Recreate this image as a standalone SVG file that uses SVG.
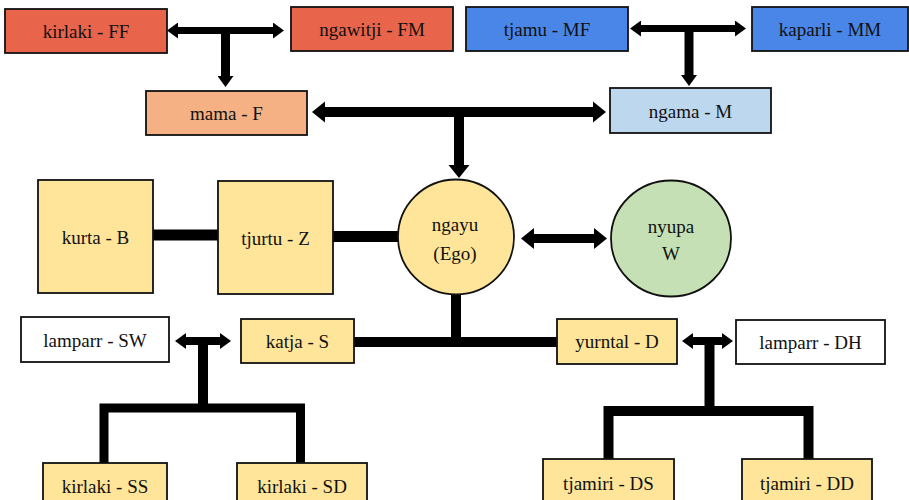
<svg xmlns="http://www.w3.org/2000/svg" width="909" height="500" viewBox="0 0 909 500">
<defs>
<style>
.box{stroke:#111;stroke-width:1.8}
.t{font-size:19px;fill:#111;text-anchor:middle}
.red{fill:#E8644B}.sal{fill:#F5B184}.blu{fill:#4A86E8}.lbl{fill:#BDD7EE}.yel{fill:#FFE599}.grn{fill:#C5E0B4}.wht{fill:#fff}
.c{fill:none;stroke:#000;stroke-linejoin:miter}
</style>
<marker id="hs" viewBox="-1 -8 12 16" refX="0" refY="0" markerWidth="12" markerHeight="16" markerUnits="userSpaceOnUse" orient="auto-start-reverse">
<polygon points="-1,-8 10,0 -1,8" fill="#000"/>
</marker>
<marker id="hl" viewBox="-1 -11 13 22" refX="0" refY="0" markerWidth="13" markerHeight="22" markerUnits="userSpaceOnUse" orient="auto-start-reverse">
<polygon points="-1,-10.5 12,0 -1,10.5" fill="#000"/>
</marker>
</defs>
<rect width="909" height="500" fill="#fff"/>

<g id="connectors">
<path class="c" d="M177,30.5 H274" stroke-width="7" marker-start="url(#hs)" marker-end="url(#hs)"/>
<path class="c" d="M225.5,30 V77" stroke-width="9" marker-end="url(#hs)"/>
<path class="c" d="M640,28.5 H736" stroke-width="7" marker-start="url(#hs)" marker-end="url(#hs)"/>
<path class="c" d="M689,28 V76" stroke-width="9" marker-end="url(#hs)"/>
<path class="c" d="M324,112 H594" stroke-width="10" marker-start="url(#hl)" marker-end="url(#hl)"/>
<path class="c" d="M459,112 V166" stroke-width="10" marker-end="url(#hl)"/>
<path class="c" d="M533,238.5 H595" stroke-width="9" marker-start="url(#hl)" marker-end="url(#hl)"/>
<path class="c" d="M153,235 H218" stroke-width="11"/>
<path class="c" d="M333,236.5 H398" stroke-width="11"/>
<path class="c" d="M456,294 V342 M354,342 H557" stroke-width="10"/>
<path class="c" d="M185,341 H221" stroke-width="8" marker-start="url(#hs)" marker-end="url(#hs)"/>
<path class="c" d="M203,341 V408" stroke-width="10"/>
<path class="c" d="M104,463 V408 H300.5 V463" stroke-width="9"/>
<path class="c" d="M692,341 H723" stroke-width="8" marker-start="url(#hs)" marker-end="url(#hs)"/>
<path class="c" d="M709.5,341 V411" stroke-width="10"/>
<path class="c" d="M608.5,459 V411 H808.5 V459" stroke-width="10"/>
</g>

<g id="nodes" font-family="'Liberation Serif', 'DejaVu Serif', serif">
<g id="n-FF"><rect class="box red" x="5" y="9" width="162" height="44"/><text class="t" x="86" y="38">kirlaki - FF</text></g>
<g id="n-FM"><rect class="box red" x="291" y="7" width="162" height="44"/><text class="t" x="372" y="36">ngawitji - FM</text></g>
<g id="n-MF"><rect class="box blu" x="466" y="7" width="162" height="44"/><text class="t" x="547" y="36">tjamu - MF</text></g>
<g id="n-MM"><rect class="box blu" x="752" y="7" width="156" height="44"/><text class="t" x="830" y="36">kaparli - MM</text></g>
<g id="n-F"><rect class="box sal" x="146" y="91" width="161" height="44"/><text class="t" x="226.5" y="120">mama - F</text></g>
<g id="n-M"><rect class="box lbl" x="610" y="88" width="161" height="45"/><text class="t" x="690.5" y="118">ngama - M</text></g>
<g id="n-B"><rect class="box yel" x="38" y="180" width="115" height="113"/><text class="t" x="95.5" y="244">kurta - B</text></g>
<g id="n-Z"><rect class="box yel" x="218" y="181" width="115" height="113"/><text class="t" x="275.5" y="245">tjurtu - Z</text></g>
<g id="n-Ego"><ellipse class="box yel" cx="456" cy="237" rx="58" ry="57.5"/><text class="t" x="455" y="231">ngayu</text><text class="t" x="455" y="260">(Ego)</text></g>
<g id="n-W"><ellipse class="box grn" cx="671" cy="238.5" rx="60" ry="58"/><text class="t" x="671" y="233">nyupa</text><text class="t" x="671" y="260">W</text></g>
<g id="n-SW"><rect class="box wht" x="21" y="317" width="148" height="45"/><text class="t" x="95" y="347">lamparr - SW</text></g>
<g id="n-S"><rect class="box yel" x="241" y="319" width="113" height="44"/><text class="t" x="297.5" y="348">katja - S</text></g>
<g id="n-D"><rect class="box yel" x="557" y="319" width="120" height="45"/><text class="t" x="617" y="348">yurntal - D</text></g>
<g id="n-DH"><rect class="box wht" x="736" y="320" width="149" height="44"/><text class="t" x="810.5" y="349">lamparr - DH</text></g>
<g id="n-SS"><rect class="box yel" x="43" y="463" width="124" height="50"/><text class="t" x="105" y="493">kirlaki - SS</text></g>
<g id="n-SD"><rect class="box yel" x="237" y="463" width="130" height="50"/><text class="t" x="302" y="493">kirlaki - SD</text></g>
<g id="n-DS"><rect class="box yel" x="543" y="459" width="131" height="50"/><text class="t" x="608.5" y="490">tjamiri - DS</text></g>
<g id="n-DD"><rect class="box yel" x="742" y="459" width="130" height="50"/><text class="t" x="807" y="490">tjamiri - DD</text></g>
</g>
</svg>
